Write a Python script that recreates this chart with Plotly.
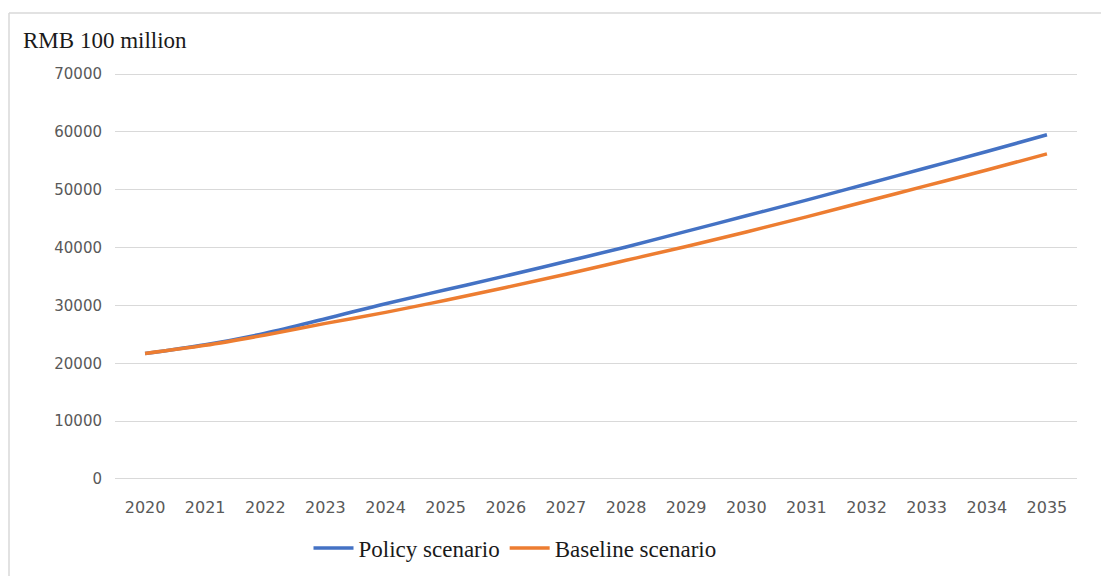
import plotly.graph_objects as go

years = [str(y) for y in range(2020, 2036)]
policy = [21700, 23200, 25200, 27700, 30300, 32700, 35100, 37600, 40100,
          42800, 45500, 48200, 51000, 53800, 56600, 59500]
baseline = [21700, 23100, 24900, 26900, 28800, 30900, 33100, 35400, 37800,
            40200, 42700, 45300, 48000, 50700, 53400, 56200]
y_ticks = [0, 10000, 20000, 30000, 40000, 50000, 60000, 70000]

W, H = 1101, 576
L, R, T, B = 115, 24, 72, 95
pw, ph = W - L - R, H - T - B

fig = go.Figure()
fig.add_trace(go.Scatter(x=years, y=policy, mode="lines", name="Policy scenario",
                         line=dict(color="#4472C4", width=3.5, shape="spline")))
fig.add_trace(go.Scatter(x=years, y=baseline, mode="lines", name="Baseline scenario",
                         line=dict(color="#ED7D31", width=3.5, shape="spline")))

def px_x(p):
    return (p - L) / pw

def px_y(p):
    return (H - B - p) / ph

fig.update_layout(
    width=W, height=H,
    margin=dict(l=L, r=R, t=T, b=B, autoexpand=False),
    paper_bgcolor="white", plot_bgcolor="white",
    showlegend=True,
    legend=dict(orientation="h", x=px_x(515), y=px_y(548), xanchor="center", yanchor="middle",
                font=dict(family="Liberation Serif", size=23, color="#1a1a1a"),
                bgcolor="rgba(0,0,0,0)", itemwidth=40),
    xaxis=dict(type="category", range=[-0.5, 15.5], showgrid=False, showline=False,
               ticks="outside", ticklen=12, tickcolor="rgba(0,0,0,0)",
               tickfont=dict(family="DejaVu Sans", size=16, color="#595959"),
               zeroline=False),
    yaxis=dict(range=[-350, 70350], tickvals=y_ticks, ticktext=[str(v) for v in y_ticks],
               showgrid=True, gridcolor="#d9d9d9", gridwidth=1, showline=False,
               zeroline=False, ticks="outside", ticklen=9, tickcolor="rgba(0,0,0,0)",
               tickfont=dict(family="DejaVu Sans", size=15, color="#595959")),
    annotations=[dict(text="RMB 100 million", xref="paper", yref="paper",
                      x=px_x(21), y=px_y(40), xanchor="left", yanchor="middle",
                      showarrow=False,
                      font=dict(family="Liberation Serif", size=23, color="#1a1a1a"))],
    shapes=[
        dict(type="line", xref="paper", yref="paper", x0=px_x(9), x1=px_x(W + 5),
             y0=px_y(13), y1=px_y(13), line=dict(color="#d9d9d9", width=1.5)),
        dict(type="line", xref="paper", yref="paper", x0=px_x(9), x1=px_x(9),
             y0=px_y(13), y1=px_y(H + 5), line=dict(color="#d9d9d9", width=1.5)),
    ],
)
fig.write_html("out.html")
